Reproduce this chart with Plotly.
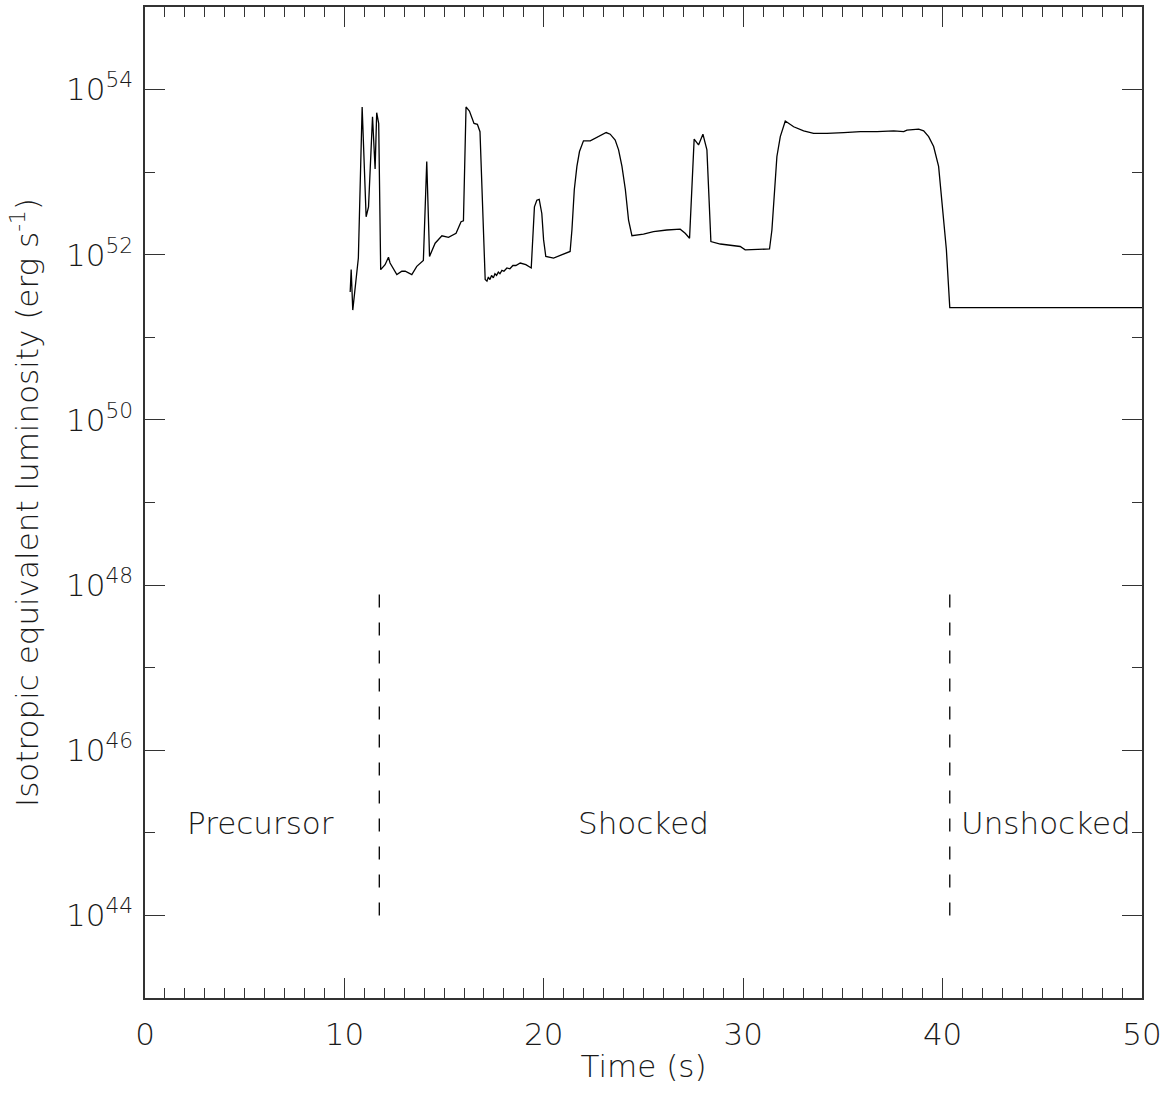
import plotly.graph_objects as go

# ---------------- data ----------------
time_s = [10.29, 10.34, 10.42, 10.70, 10.89, 11.09, 11.21, 11.41, 11.54, 11.62, 11.72,
          11.82, 12.04, 12.21, 12.29, 12.63, 12.88, 13.05, 13.38, 13.63, 13.96, 14.13,
          14.27, 14.55, 14.89, 15.22, 15.60, 15.85, 15.97, 16.10, 16.27, 16.50, 16.67,
          16.80, 17.06, 17.15, 17.22, 17.30, 17.38, 17.47, 17.55, 17.63, 17.72, 17.80,
          17.90, 18.00, 18.15, 18.30, 18.45, 18.60, 18.82, 19.10, 19.37, 19.53, 19.65,
          19.77, 19.90, 19.99, 20.10, 20.49, 21.32, 21.41, 21.53, 21.66, 21.79, 21.99,
          22.33, 22.58, 22.83, 23.13, 23.33, 23.58, 23.75, 23.92, 24.09, 24.25, 24.42,
          25.00, 25.50, 26.17, 26.84, 27.09, 27.31, 27.54, 27.76, 27.98, 28.18, 28.27,
          28.38, 28.85, 29.52, 29.85, 30.10, 31.32, 31.44, 31.56, 31.69, 31.86, 32.11,
          32.53, 33.03, 33.53, 34.20, 35.04, 35.88, 36.71, 37.55, 38.05, 38.21, 38.80,
          39.05, 39.30, 39.55, 39.80, 39.97, 40.09, 40.19, 40.27, 40.36, 50.00]
log_lum = [51.55, 51.82, 51.33, 51.96, 53.79, 52.46, 52.58, 53.67, 53.04, 53.72, 53.59,
           51.82, 51.88, 51.97, 51.90, 51.76, 51.80, 51.80, 51.76, 51.86, 51.93, 53.13,
           51.98, 52.14, 52.23, 52.21, 52.26, 52.40, 52.41, 53.79, 53.74, 53.59, 53.58,
           53.49, 51.70, 51.68, 51.73, 51.70, 51.75, 51.72, 51.77, 51.75, 51.79, 51.77,
           51.81, 51.80, 51.84, 51.83, 51.87, 51.87, 51.90, 51.88, 51.84, 52.58, 52.66,
           52.67, 52.50, 52.18, 51.98, 51.96, 52.04, 52.30, 52.79, 53.07, 53.25, 53.38,
           53.38, 53.41, 53.44, 53.48, 53.46, 53.39, 53.27, 53.07, 52.79, 52.42, 52.23,
           52.25, 52.28, 52.30, 52.31, 52.26, 52.20, 53.40, 53.33, 53.46, 53.27, 52.79,
           52.16, 52.13, 52.11, 52.10, 52.06, 52.07, 52.30, 52.79, 53.19, 53.43, 53.62,
           53.55, 53.50, 53.47, 53.47, 53.48, 53.49, 53.49, 53.50, 53.49, 53.51, 53.52,
           53.50, 53.43, 53.31, 53.07, 52.66, 52.30, 52.06, 51.73, 51.36, 51.36]
luminosity = [10.0 ** v for v in log_lum]

phase_bounds = [11.75, 40.36]
dash_span = [1e44, 10.0 ** 47.9]

phase_labels = ["Precursor", "Shocked", "Unshocked"]
phase_label_x = [5.77, 25.0, 45.18]
phase_label_logy = 45.12

y_tick_exps = [44, 46, 48, 50, 52, 54]
y_minor_exps = [43, 45, 47, 49, 51, 53, 55]
x_ticks = [0, 10, 20, 30, 40, 50]

# ---------------- styling ----------------
FONT = dict(family="DejaVu Sans", size=31, color="#1a1a1a", weight=200)
AX = "#333333"

fig = go.Figure()
fig.add_trace(go.Scatter(x=time_s, y=luminosity, mode="lines",
                         line=dict(color="black", width=1.3), showlegend=False,
                         hoverinfo="skip"))
for xb in phase_bounds:
    fig.add_trace(go.Scatter(x=[xb, xb], y=dash_span, mode="lines",
                             xaxis="x2", yaxis="y2",
                             line=dict(color="black", width=1.3, dash="13px,15px"),
                             showlegend=False, hoverinfo="skip"))

for lbl, lx in zip(phase_labels, phase_label_x):
    fig.add_annotation(x=lx, y=phase_label_logy, xref="x", yref="y", text=lbl,
                       showarrow=False, font=FONT, xanchor="center", yanchor="middle")

y_tickvals = [10.0 ** e for e in y_tick_exps]
y_ticktext = ["10<sup>%d</sup>" % e for e in y_tick_exps]
y_minor = [10.0 ** e for e in y_minor_exps]

common_x = dict(range=[0, 50], ticks="inside", ticklen=20, tickwidth=1.3, tickcolor=AX,
                tickvals=x_ticks, showline=True, linecolor=AX, linewidth=1.5,
                showgrid=False, zeroline=False,
                minor=dict(dtick=1, tick0=0, ticks="inside", ticklen=10, tickwidth=1.3,
                           tickcolor=AX, showgrid=False))
common_y = dict(type="log", range=[43, 55], ticks="inside", ticklen=20, tickwidth=1.3,
                tickcolor=AX, tickvals=y_tickvals, ticktext=y_ticktext,
                showline=True, linecolor=AX, linewidth=1.5, showgrid=False, zeroline=False,
                minor=dict(tickvals=y_minor, ticks="inside", ticklen=10, tickwidth=1.3,
                           tickcolor=AX, showgrid=False))

fig.update_layout(
    width=1169, height=1099,
    margin=dict(l=145, r=27, t=7, b=101),
    paper_bgcolor="white", plot_bgcolor="white",
    font=FONT,
    xaxis=dict(**common_x, tickfont=FONT, ticklabelstandoff=8,
               title=dict(text="Time (s)", font=FONT, standoff=4)),
    yaxis=dict(**common_y, tickfont=FONT, ticklabelstandoff=4,
               title=dict(text="Isotropic equivalent luminosity (erg s<sup>-1</sup>)",
                          font=FONT, standoff=18)),
    xaxis2=dict(**common_x, overlaying="x", side="top", anchor="y2", showticklabels=False),
    yaxis2=dict(**common_y, overlaying="y", side="right", anchor="x2", showticklabels=False),
)

fig.write_html("out.html")
